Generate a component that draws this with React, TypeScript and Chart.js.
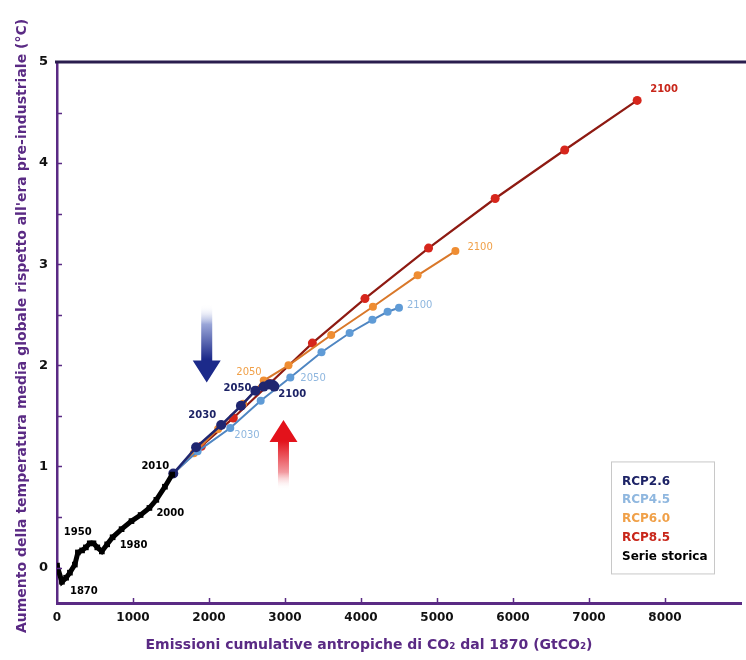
import React, { useEffect, useRef } from "react";
import { Chart, registerables } from "chart.js";

Chart.register(...registerables);

// ---------- DATA ----------
const decades = [2010, 2020, 2030, 2040, 2050, 2060, 2070, 2080, 2090, 2100];

const rcp26X = [1530, 1830, 2160, 2420, 2610, 2720, 2790, 2830, 2850, 2860];
const rcp26Y = [0.93, 1.19, 1.41, 1.6, 1.75, 1.79, 1.81, 1.81, 1.8, 1.79];

const rcp45X = [1530, 1850, 2280, 2680, 3070, 3480, 3850, 4150, 4350, 4500];
const rcp45Y = [0.93, 1.15, 1.38, 1.65, 1.88, 2.13, 2.32, 2.45, 2.53, 2.57];

const rcp60X = [1530, 1800, 2120, 2450, 2720, 3046, 3608, 4157, 4745, 5242];
const rcp60Y = [0.93, 1.13, 1.37, 1.62, 1.85, 2.0, 2.3, 2.58, 2.89, 3.13];

const rcp85X = [1530, 1900, 2320, 2800, 3360, 4052, 4889, 5765, 6680, 7634];
const rcp85Y = [0.93, 1.2, 1.48, 1.82, 2.22, 2.66, 3.16, 3.65, 4.13, 4.62];

const histX = [0, 65, 120, 170, 235, 275, 330, 380, 431, 480, 530, 590, 660, 732, 850, 980, 1100, 1216, 1307, 1420, 1516];
const histY = [0.02, -0.14, -0.1, -0.05, 0.03, 0.15, 0.17, 0.2, 0.24, 0.24, 0.2, 0.16, 0.23, 0.3, 0.38, 0.46, 0.52, 0.59, 0.67, 0.8, 0.92];
const histLabelYears = ["1870", "1950", "1980", "2000", "2010"];
const histLabelIndex = [1, 8, 13, 17, 20];

const xTicks = [0, 1000, 2000, 3000, 4000, 5000, 6000, 7000, 8000];
const yTicks = [0, 1, 2, 3, 4, 5];
const yMinorTicks = [0, 0.5, 1, 1.5, 2, 2.5, 3, 3.5, 4, 4.5];

const seriesNames = ["Serie storica", "RCP2.6", "RCP4.5", "RCP6.0", "RCP8.5"];
const legendOrder = ["RCP2.6", "RCP4.5", "RCP6.0", "RCP8.5", "Serie storica"];

const xTitle = "Emissioni cumulative antropiche di CO\u2082 dal 1870 (GtCO\u2082)";
const yTitle = "Aumento della temperatura media globale rispetto all'era pre-industriale (\u00B0C)";

// ---------- STYLE ----------
const PURPLE = "#5a2a84";
const TOPLINE = "#2a1d4e";
const NAVY = "#1f2670";
const LBLUE = "#5f9bd6";
const ORANGE = "#ef8d32";
const RED = "#d6261c";
const DARKRED = "#8e1a12";
const FONT = "'DejaVu Sans', sans-serif";

const textColors: Record<string, string> = {
  "RCP2.6": "#1d2366",
  "RCP4.5": "#8fb7df",
  "RCP6.0": "#f0a048",
  "RCP8.5": "#c8261a",
  "Serie storica": "#000000",
};

// label placements (pixel offsets from the referenced data point)
const labelPlacements = [
  { series: "RCP8.5", i: 9, dx: 13, dy: -11, align: "left", bold: true },
  { series: "RCP6.0", i: 9, dx: 12, dy: -4, align: "left", bold: false },
  { series: "RCP4.5", i: 9, dx: 8, dy: -2, align: "left", bold: false },
  { series: "RCP6.0", i: 4, dx: -2, dy: -8, align: "right", bold: false },
  { series: "RCP4.5", i: 4, dx: 10, dy: 1, align: "left", bold: false },
  { series: "RCP4.5", i: 2, dx: 4, dy: 7, align: "left", bold: false },
  { series: "RCP2.6", i: 4, dx: -4, dy: -2, align: "right", bold: true },
  { series: "RCP2.6", i: 2, dx: -5, dy: -10, align: "right", bold: true },
  { series: "RCP2.6", i: 9, dx: 4, dy: 8, align: "left", bold: true },
];
const histPlacements = [
  { dx: 8, dy: 10, align: "left" },
  { dx: -12, dy: -11, align: "center" },
  { dx: 7, dy: 8, align: "left" },
  { dx: 7, dy: 5, align: "left" },
  { dx: -3, dy: -8, align: "right" },
];

// arrows in data coordinates
const arrowBlue = { x: 1970, yTail: 2.6, yTip: 1.83 };
const arrowRed = { x: 2980, yTail: 0.77, yTip: 1.46 };

function pts(xs: number[], ys: number[]) {
  return xs.map((x, i) => ({ x, y: ys[i] }));
}

function drawArrow(ctx: CanvasRenderingContext2D, x: number, yTail: number, yTip: number, color: string, light: string) {
  const shaftW = 11;
  const headW = 28;
  const headH = 22;
  const dir = Math.sign(yTip - yTail);
  const yBase = yTip - dir * headH;
  const grad = ctx.createLinearGradient(0, yTail, 0, yTip);
  grad.addColorStop(0, "rgba(255,255,255,0)");
  grad.addColorStop(0.25, light);
  grad.addColorStop(0.7, color);
  grad.addColorStop(1, color);
  ctx.save();
  ctx.beginPath();
  ctx.moveTo(x - shaftW / 2, yTail);
  ctx.lineTo(x - shaftW / 2, yBase);
  ctx.lineTo(x - headW / 2, yBase);
  ctx.lineTo(x, yTip);
  ctx.lineTo(x + headW / 2, yBase);
  ctx.lineTo(x + shaftW / 2, yBase);
  ctx.lineTo(x + shaftW / 2, yTail);
  ctx.closePath();
  ctx.fillStyle = grad;
  ctx.fill();
  ctx.restore();
}

const decorPlugin = {
  id: "decor",
  beforeDatasetsDraw(chart: any) {
    const ctx = chart.ctx as CanvasRenderingContext2D;
    const xs = chart.scales.x;
    const ys = chart.scales.y;
    drawArrow(ctx, xs.getPixelForValue(arrowBlue.x), ys.getPixelForValue(arrowBlue.yTail), ys.getPixelForValue(arrowBlue.yTip), "#1c2a8a", "#9aa6d8");
    drawArrow(ctx, xs.getPixelForValue(arrowRed.x), ys.getPixelForValue(arrowRed.yTail), ys.getPixelForValue(arrowRed.yTip), "#e3121b", "#f29aa0");
  },
  afterDraw(chart: any) {
    const ctx = chart.ctx as CanvasRenderingContext2D;
    const area = chart.chartArea;
    const xs = chart.scales.x;
    const ys = chart.scales.y;
    ctx.save();
    // top frame line
    ctx.strokeStyle = TOPLINE;
    ctx.lineWidth = 3;
    ctx.beginPath();
    ctx.moveTo(area.left - 2, area.top);
    ctx.lineTo(chart.width, area.top);
    ctx.stroke();
    // inward ticks
    ctx.strokeStyle = PURPLE;
    ctx.lineWidth = 1.5;
    yMinorTicks.forEach((v) => {
      const py = Math.round(ys.getPixelForValue(v)) + 0.5;
      ctx.beginPath();
      ctx.moveTo(area.left, py);
      ctx.lineTo(area.left + 5, py);
      ctx.stroke();
    });
    xTicks.forEach((v) => {
      if (v === 0) return;
      const px = Math.round(xs.getPixelForValue(v)) + 0.5;
      ctx.beginPath();
      ctx.moveTo(px, area.bottom);
      ctx.lineTo(px, area.bottom - 5);
      ctx.stroke();
    });

    // year labels
    ctx.textBaseline = "middle";
    const dsByName: Record<string, any> = {};
    chart.data.datasets.forEach((d: any) => (dsByName[d.label] = d));
    labelPlacements.forEach((p) => {
      const d = dsByName[p.series];
      const pt = d.data[p.i];
      const px = xs.getPixelForValue(pt.x) + p.dx;
      const py = ys.getPixelForValue(pt.y) + p.dy;
      ctx.font = `${p.bold ? "bold " : ""}10px ${FONT}`;
      ctx.fillStyle = textColors[p.series];
      ctx.textAlign = p.align as CanvasTextAlign;
      ctx.fillText(String(decades[p.i]), px, py);
    });
    const hist = dsByName["Serie storica"];
    histLabelIndex.forEach((idx, k) => {
      const pt = hist.data[idx];
      const p = histPlacements[k];
      ctx.font = `bold 10px ${FONT}`;
      ctx.fillStyle = "#000";
      ctx.textAlign = p.align as CanvasTextAlign;
      ctx.fillText(histLabelYears[k], xs.getPixelForValue(pt.x) + p.dx, ys.getPixelForValue(pt.y) + p.dy);
    });

    // legend box
    const bx = area.right - 130;
    const by = ys.getPixelForValue(1.05);
    const bw = 103;
    const bh = 112;
    ctx.strokeStyle = "#c8c8c8";
    ctx.lineWidth = 1;
    ctx.strokeRect(bx + 0.5, by + 0.5, bw, bh);
    ctx.font = `bold 12px ${FONT}`;
    ctx.textAlign = "left";
    legendOrder.forEach((name, k) => {
      ctx.fillStyle = textColors[name];
      ctx.fillText(name, bx + 11, by + 20 + k * 18.8);
    });

    // axis titles
    ctx.fillStyle = PURPLE;
    ctx.font = `bold 14px ${FONT}`;
    ctx.textAlign = "center";
    ctx.fillText(xTitle, 369, chart.height - 15);
    ctx.translate(22, 326);
    ctx.rotate(-Math.PI / 2);
    ctx.fillText(yTitle, 0, 0);
    ctx.restore();
  },
};

export default function App() {
  const ref = useRef<HTMLCanvasElement>(null);
  useEffect(() => {
    const datasets = [
      {
        label: seriesNames[0],
        data: pts(histX, histY),
        borderColor: "#000",
        backgroundColor: "#000",
        borderWidth: 5,
        pointStyle: "rect",
        pointRadius: 4,
        pointBorderWidth: 0,
      },
      {
        label: seriesNames[1],
        data: pts(rcp26X, rcp26Y),
        borderColor: NAVY,
        backgroundColor: NAVY,
        borderWidth: 2.5,
        pointRadius: 5,
        pointBorderWidth: 0,
      },
      {
        label: seriesNames[2],
        data: pts(rcp45X, rcp45Y),
        borderColor: "#4f86c2",
        backgroundColor: LBLUE,
        borderWidth: 2,
        pointRadius: 4,
        pointBorderWidth: 0,
      },
      {
        label: seriesNames[3],
        data: pts(rcp60X, rcp60Y),
        borderColor: "#d9782a",
        backgroundColor: ORANGE,
        borderWidth: 2,
        pointRadius: 4,
        pointBorderWidth: 0,
      },
      {
        label: seriesNames[4],
        data: pts(rcp85X, rcp85Y),
        borderColor: DARKRED,
        backgroundColor: RED,
        borderWidth: 2.2,
        pointRadius: 4.5,
        pointBorderWidth: 0,
      },
    ];
    const chart = new Chart(ref.current as HTMLCanvasElement, {
      type: "line",
      data: { datasets } as any,
      options: {
        animation: false,
        responsive: false,
        devicePixelRatio: 1,
        layout: { padding: { left: 0, right: 0, top: 62, bottom: 0 } },
        plugins: { legend: { display: false }, tooltip: { enabled: false } },
        elements: { line: { tension: 0 } },
        scales: {
          x: {
            type: "linear",
            min: 0,
            max: 9000,
            afterBuildTicks: (s: any) => {
              s.ticks = xTicks.map((v) => ({ value: v }));
            },
            afterFit: (s: any) => {
              s.height = 57;
            },
            grid: { display: false, drawTicks: false },
            border: { display: true, color: PURPLE, width: 3 },
            ticks: {
              color: "#111",
              font: { family: FONT, size: 12, weight: "bold" },
              padding: 8,
              maxRotation: 0,
              autoSkip: false,
              callback: (v: any) => String(v),
            },
          },
          y: {
            type: "linear",
            min: -0.35,
            max: 5,
            afterBuildTicks: (s: any) => {
              s.ticks = yTicks.map((v) => ({ value: v }));
            },
            afterFit: (s: any) => {
              s.width = 57;
            },
            grid: { display: false, drawTicks: false },
            border: { display: true, color: PURPLE, width: 2.5 },
            ticks: { color: "#111", font: { family: FONT, size: 13, weight: "bold" }, padding: 9, callback: (v: any) => String(v) },
          },
        },
      } as any,
      plugins: [decorPlugin],
    });
    return () => chart.destroy();
  }, []);
  return (
    <div style={{ position: "fixed", left: 0, top: 0, width: 746, height: 660, background: "#fff" }}>
      <canvas ref={ref} width={746} height={660} style={{ display: "block", width: 746, height: 660 }} />
    </div>
  );
}
